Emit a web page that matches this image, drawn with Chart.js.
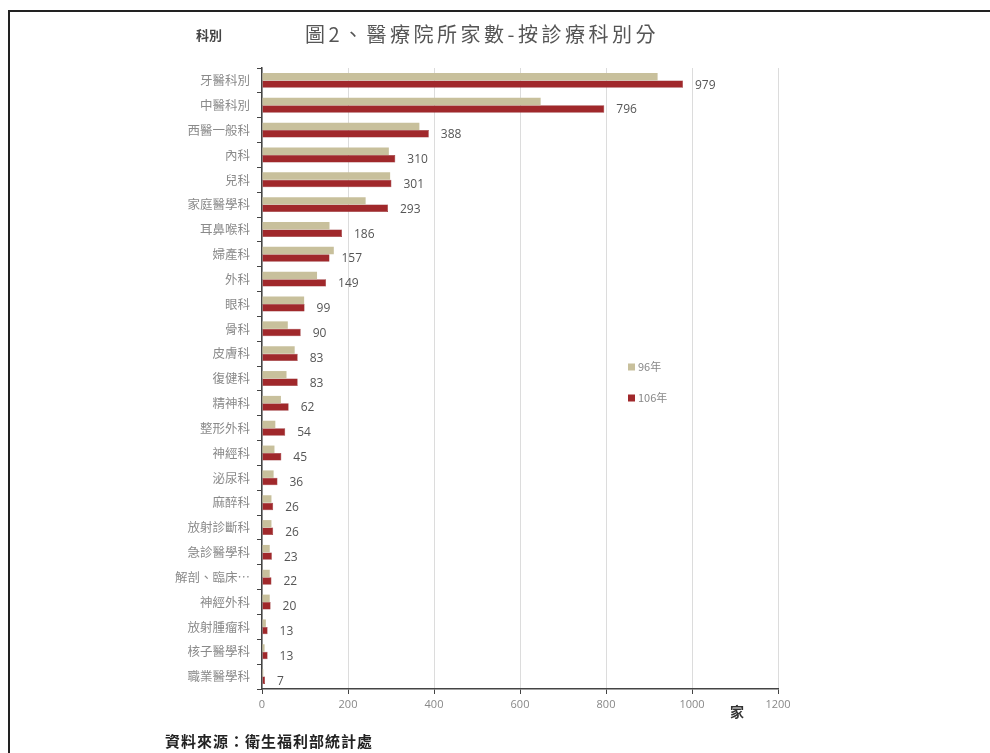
<!DOCTYPE html>
<html><head><meta charset="utf-8">
<script src="https://cdn.jsdelivr.net/npm/chart.js@4.4.1/dist/chart.umd.min.js"></script>
<style>
html,body{margin:0;padding:0;background:#fff;width:990px;height:753px;overflow:hidden;}
#wrap{position:absolute;left:0;top:0;width:990px;height:753px;overflow:hidden;}
#frame{position:absolute;left:8px;top:10px;width:1100px;height:800px;border-top:2px solid #222;border-left:2px solid #222;}
#c{position:absolute;left:0;top:0;}
.txt{position:absolute;font-family:"Noto Sans CJK TC";white-space:nowrap;line-height:1;}
</style></head><body>
<div id="wrap">
<div id="frame"></div>
<canvas id="c" width="990" height="753"></canvas>
<div class="txt" style="left:196px;top:28px;font-size:13px;font-weight:bold;color:#444;">科別</div>
<div class="txt" style="left:305px;top:24px;font-size:20px;letter-spacing:3.5px;color:#555;">圖2、醫療院所家數-按診療科別分</div>
<div class="txt" style="left:730px;top:704px;font-size:14px;font-weight:bold;color:#333;">家</div>
<div class="txt" style="left:165px;top:733px;font-size:15px;font-weight:bold;color:#222;letter-spacing:1px;">資料來源：衛生福利部統計處</div>
</div>
<script>
const categories = ['牙醫科別','中醫科別','西醫一般科','內科','兒科','家庭醫學科','耳鼻喉科','婦產科','外科','眼科','骨科','皮膚科','復健科','精神科','整形外科','神經科','泌尿科','麻醉科','放射診斷科','急診醫學科','解剖、臨床…','神經外科','放射腫瘤科','核子醫學科','職業醫學科'];
const values96 = [920,648,366,295,298,241,157,167,128,98,60,76,57,44,31,29,27,22,22,18,18,18,9,6,3];
const values106 = [979,796,388,310,301,293,186,157,149,99,90,83,83,62,54,45,36,26,26,23,22,20,13,13,7];
const seriesNames = ['96年','106年'];
const xTickValues = [0,200,400,600,800,1000,1200];
const seriesColors = ['#c8c09c','#a0282b'];

const valueLabels = {
  id:'valueLabels',
  afterDatasetsDraw(chart){
    const ctx = chart.ctx;
    const meta = chart.getDatasetMeta(1);
    ctx.save();
    ctx.font = '12px "Open Sans"';
    ctx.fillStyle = '#555';
    ctx.textBaseline = 'middle';
    ctx.textAlign = 'left';
    meta.data.forEach((bar,i)=>{
      ctx.fillText(String(chart.data.datasets[1].data[i]), bar.x + 12, bar.y + 1);
    });
    ctx.restore();
  }
};

const customLegend = {
  id:'customLegend',
  afterDraw(chart){
    const ctx = chart.ctx;
    const items = chart.data.datasets;
    const x = 628, ys = [367, 398];
    ctx.save();
    ctx.font = '11px "Noto Sans CJK TC"';
    ctx.textBaseline = 'middle';
    items.forEach((ds,i)=>{
      ctx.fillStyle = ds.backgroundColor;
      ctx.fillRect(x, ys[i]-3.5, 7, 7);
      ctx.fillStyle = '#888';
      ctx.fillText(ds.label, x + 10, ys[i]);
    });
    ctx.restore();
  }
};

new Chart(document.getElementById('c'), {
  type:'bar',
  data:{
    labels: categories,
    datasets:[
      {label:seriesNames[0], data:values96, backgroundColor:seriesColors[0], borderWidth:0, categoryPercentage:0.6, barPercentage:1.0},
      {label:seriesNames[1], data:values106, backgroundColor:seriesColors[1], borderColor:'#8a1e20', borderWidth:0.5, categoryPercentage:0.6, barPercentage:1.0}
    ]
  },
  options:{
    indexAxis:'y',
    responsive:false,
    animation:false,
    devicePixelRatio:1,
    layout:{padding:{left:0,right:212,top:68,bottom:34}},
    plugins:{legend:{display:false}, tooltip:{enabled:false}},
    scales:{
      x:{
        min:0, max:1200,
        afterBuildTicks(scale){ scale.ticks = xTickValues.map(v=>({value:v})); },
        afterFit(scale){ scale.height = 30; },
        grid:{color:'#dcdcdc', tickColor:'#444', tickLength:5, lineWidth:1},
        border:{color:'#444', width:1.5},
        ticks:{color:'#888', font:{size:11, family:'"Open Sans"'}, padding:4, callback:(v)=>String(v)}
      },
      y:{
        afterFit(scale){ scale.width = 262; },
        grid:{drawOnChartArea:false, tickColor:'#444', tickLength:5, offset:true},
        border:{color:'#444', width:1.5},
        ticks:{color:'#8a8a8a', font:{size:12.5, family:'"Noto Sans CJK TC"'}, padding:7, autoSkip:false}
      }
    }
  },
  plugins:[valueLabels, customLegend]
});
</script>
</body></html>
